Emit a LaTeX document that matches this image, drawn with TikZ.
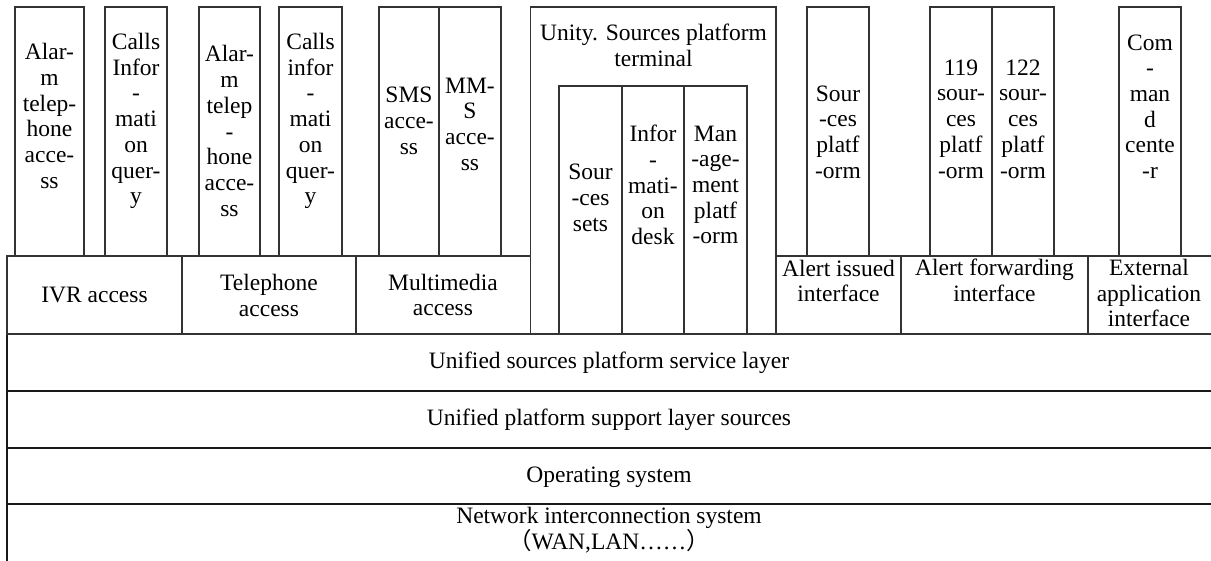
\documentclass[tikz,border=0pt]{standalone}
\usepackage{fontspec}
\setmainfont{Liberation Serif}
\newfontfamily\cjk{Noto Sans CJK SC}
\usetikzlibrary{fit}
\begin{document}
\begin{tikzpicture}[x=1pt,y=-1pt,
  cell/.style={draw=black!80, line width=1.2pt, inner sep=0pt},
  layer/.style={draw=black!90, line width=1.5pt, inner sep=0pt},
  txt/.style={font=\fontsize{23.5}{25.7}\selectfont, align=center, inner sep=0pt}]
\fill[white] (0,0) rectangle (1211,561);
\useasboundingbox (0,0) rectangle (1211,561);
\begin{scope}
\clip (0,0) rectangle (1211,561);

% ---- system layers ----
\node[layer, fit={(7,334) (1230,391)}] (svc) {};
\node[layer, fit={(7,391) (1230,448)}] (sup) {};
\node[layer, fit={(7,448) (1230,504)}] (os) {};
\node[layer, fit={(7,504) (1230,580)}] (net) {};
\node[txt] (svct) at (609,363) {Unified sources platform service layer};
\node[txt] (supt) at (609,420) {Unified platform support layer sources};
\node[txt] (ost) at (609,477) {Operating system};
\node[txt] (nett) at (609,530) {Network interconnection system\\{\cjk （}WAN,LAN……{\cjk ）}};

% ---- access and interface row ----
\node[cell, fit={(7,256) (182,334)}] (ivr) {};
\node[cell, fit={(182,256) (356,334)}] (tel) {};
\node[cell, fit={(356,256) (530.5,334)}] (mm) {};
\node[cell, fit={(776,256) (901,334)}] (ai) {};
\node[cell, fit={(901,256) (1088,334)}] (af) {};
\node[cell, fit={(1088,256) (1230,334)}] (ext) {};
\node[txt] (ivrt) at (94.5,295) {IVR access};
\node[txt] (telt) at (269,295.5) {Telephone\\access};
\node[txt] (mmt) at (443,295) {Multimedia\\access};
\node[txt] (ait) at (838.5,281) {Alert issued\\interface};
\node[txt] (aft) at (994.5,280) {Alert forwarding\\interface};
\node[txt] (extt) at (1149,293) {External\\application\\interface};

% ---- terminal ----
\node[cell, fit={(530.5,7) (776,334)}] (uni) {};
\node[cell, fit={(559,86) (622,334)}] (sets) {};
\node[cell, fit={(622,86) (684,334)}] (desk) {};
\node[cell, fit={(684,86) (747,334)}] (mgmt) {};
\node[txt] (unit) at (653.5,45) {Unity. Sources platform\\terminal};
\node[txt] (setst) at (590.5,198) {Sour\\-ces\\sets};
\node[txt] (deskt) at (653,185) {Infor\\-\\mati-\\on\\desk};
\node[txt] (mgmtt) at (715.5,185) {Man\\-age-\\ment\\platf\\-orm};

% ---- service columns ----
\node[cell, fit={(15,7) (84,256)}] (c1) {};
\node[cell, fit={(105,7) (167,256)}] (c2) {};
\node[cell, fit={(199,7) (260,256)}] (c3) {};
\node[cell, fit={(279,7) (342,256)}] (c4) {};
\node[cell, fit={(379,7) (439,256)}] (sms) {};
\node[cell, fit={(439,7) (501,256)}] (mms) {};
\node[cell, fit={(807,7) (869,256)}] (spf) {};
\node[cell, fit={(930,7) (992,256)}] (p119) {};
\node[cell, fit={(992,7) (1054,256)}] (p122) {};
\node[cell, fit={(1119,7) (1181,256)}] (cmd) {};
\node[txt] (c1t) at (49.5,116) {Alar-\\m\\telep-\\hone\\acce-\\ss};
\node[txt] (c2t) at (136,121) {Calls\\Infor\\-\\mati\\on\\quer-\\y};
\node[txt] (c3t) at (229.5,131) {Alar-\\m\\telep\\-\\hone\\acce-\\ss};
\node[txt] (c4t) at (310.5,121) {Calls\\infor\\-\\mati\\on\\quer-\\y};
\node[txt] (smst) at (409,121) {SMS\\acce-\\ss};
\node[txt] (mmst) at (470,124) {MM-\\S\\acce-\\ss};
\node[txt] (spft) at (838,132) {Sour\\-ces\\platf\\-orm};
\node[txt] (p119t) at (961,119) {119\\sour-\\ces\\platf\\-orm};
\node[txt] (p122t) at (1023,119) {122\\sour-\\ces\\platf\\-orm};
\node[txt] (cmdt) at (1150,106.5) {Com\\-\\man\\d\\cente\\-r};
\end{scope}
\end{tikzpicture}
\end{document}
